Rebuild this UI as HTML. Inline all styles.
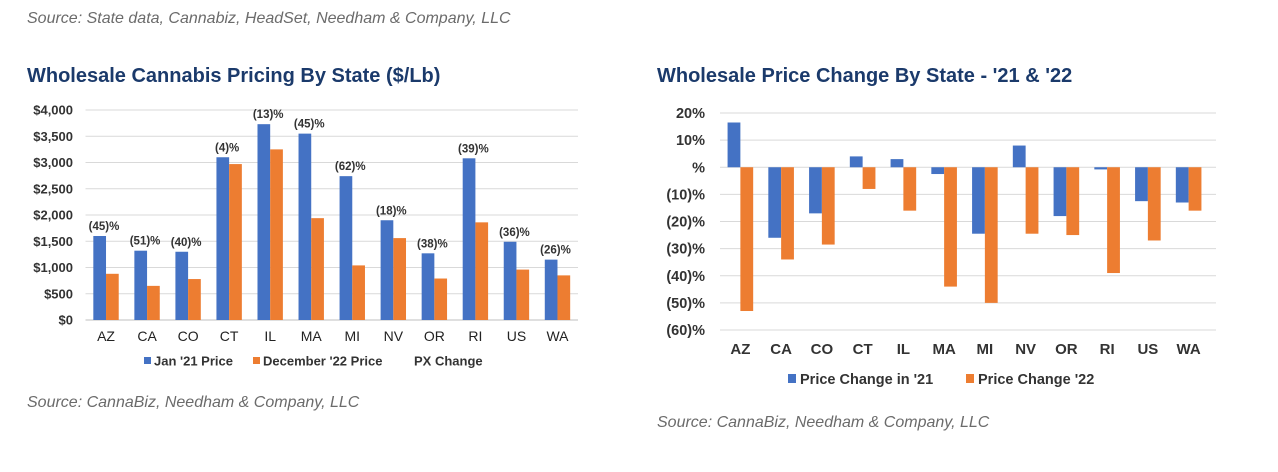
<!DOCTYPE html>
<html><head><meta charset="utf-8"><style>
body{margin:0;width:1278px;height:472px;background:#fff;overflow:hidden;font-family:"Liberation Sans",Arial,sans-serif}
.src{position:absolute;font-style:italic;color:#6b6b6b;font-size:16px}
.ttl{position:absolute;color:#1b3a6b;font-weight:bold;font-size:20px}
svg{position:absolute;left:0;top:0}
</style></head><body>
<div class="src" style="left:27px;top:10px">Source: State data, Cannabiz, HeadSet, Needham &amp; Company, LLC</div>
<div class="ttl" style="left:27px;top:65px">Wholesale Cannabis Pricing By State ($/Lb)</div>
<div class="ttl" style="left:657px;top:65px">Wholesale Price Change By State - '21 &amp; '22</div>
<div class="src" style="left:27px;top:394px">Source: CannaBiz, Needham &amp; Company, LLC</div>
<div class="src" style="left:657px;top:414px">Source: CannaBiz, Needham &amp; Company, LLC</div>
<svg id="chart" width="1278" height="472"></svg>
<script>
const categories=["AZ","CA","CO","CT","IL","MA","MI","NV","OR","RI","US","WA"];
const jan21=[1600,1320,1300,3100,3730,3550,2740,1900,1270,3080,1490,1150];
const dec22=[880,650,780,2970,3250,1940,1040,1560,790,1860,960,850];
const pxChange=["(45)%","(51)%","(40)%","(4)%","(13)%","(45)%","(62)%","(18)%","(38)%","(39)%","(36)%","(26)%"];
const leftTicks=[0,500,1000,1500,2000,2500,3000,3500,4000];
const leftTickLabels=["$0","$500","$1,000","$1,500","$2,000","$2,500","$3,000","$3,500","$4,000"];
const chg21=[16.5,-26,-17,4,3,-2.5,-24.5,8,-18,-0.8,-12.5,-13];
const chg22=[-53,-34,-28.5,-8,-16,-44,-50,-24.5,-25,-39,-27,-16];
const rightTicks=[20,10,0,-10,-20,-30,-40,-50,-60];
const rightTickLabels=["20%","10%","%","(10)%","(20)%","(30)%","(40)%","(50)%","(60)%"];

const svg=document.getElementById('chart');
const NS="http://www.w3.org/2000/svg";
function mk(tag,attrs,name,text){const e=document.createElementNS(NS,tag);for(const k in attrs)e.setAttribute(k,attrs[k]);


if(text!==undefined)e.textContent=text;svg.appendChild(e);return e;}
const BLUE="#4472c4",ORANGE="#ed7d31";

// Left chart
const L={x0:85.5,x1:578,y0:320,y1:110,max:4000};
const ly=v=>L.y0-(v/L.max)*(L.y0-L.y1);
const lbw=(L.x1-L.x0)/categories.length;
const lx=i=>L.x0+lbw*(i+0.5);
leftTicks.forEach((t,i)=>{
 mk('line',{x1:L.x0,x2:L.x1,y1:ly(t),y2:ly(t),stroke:t===0?'#bfbfbf':'#d9d9d9','stroke-width':1},'left-gridline');
 mk('text',{x:73,y:ly(t)+4.5,'text-anchor':'end','font-size':13,'font-weight':'bold',fill:'#333'},'left-y-tick-label',leftTickLabels[i]);
});
categories.forEach((c,i)=>{
 const cx=lx(i),w=12.7;
 mk('rect',{x:cx-w,y:ly(jan21[i]),width:w,height:ly(0)-ly(jan21[i]),fill:BLUE},'bar-jan21-'+c.toLowerCase());
 mk('rect',{x:cx,y:ly(dec22[i]),width:w,height:ly(0)-ly(dec22[i]),fill:ORANGE},'bar-dec22-'+c.toLowerCase());
 mk('text',{x:cx-2,y:ly(Math.max(jan21[i],dec22[i]))-6,'text-anchor':'middle','font-size':11.5,'font-weight':'bold',fill:'#333'},'px-change-label',pxChange[i]);
 mk('text',{x:cx,y:341,'text-anchor':'middle','font-size':14,fill:'#222'},'left-x-tick-label',c);
});
mk('rect',{x:144,y:357,width:7,height:7,fill:BLUE},'legend-jan21-swatch');
mk('text',{x:154,y:365.5,'font-size':13,'font-weight':'bold',fill:'#333'},'legend-jan21-label',"Jan '21 Price");
mk('rect',{x:253,y:357,width:7,height:7,fill:ORANGE},'legend-dec22-swatch');
mk('text',{x:263,y:365.5,'font-size':13,'font-weight':'bold',fill:'#333'},'legend-dec22-label',"December '22 Price");
mk('text',{x:414,y:365.5,'font-size':13,'font-weight':'bold',fill:'#333'},'legend-px-change-label',"PX Change");

// Right chart
const R={x0:720,x1:1216,y0:330,y1:113,min:-60,max:20};
const ry=v=>R.y1+(R.max-v)/(R.max-R.min)*(R.y0-R.y1);
const rbw=(1209-720)/categories.length;
const rx=i=>720+rbw*(i+0.5);
rightTicks.forEach((t,i)=>{
 mk('line',{x1:R.x0,x2:R.x1,y1:ry(t),y2:ry(t),stroke:'#d9d9d9','stroke-width':1},'right-gridline');
 mk('text',{x:705,y:ry(t)+5,'text-anchor':'end','font-size':14.5,'font-weight':'bold',fill:'#333'},'right-y-tick-label',rightTickLabels[i]);
});
categories.forEach((c,i)=>{
 const cx=rx(i),w=12.8;
 const a=chg21[i],b=chg22[i];
 mk('rect',{x:cx-w,y:Math.min(ry(a),ry(0)),width:w,height:Math.abs(ry(a)-ry(0)),fill:BLUE},'bar-chg21-'+c.toLowerCase());
 mk('rect',{x:cx,y:Math.min(ry(b),ry(0)),width:w,height:Math.abs(ry(b)-ry(0)),fill:ORANGE},'bar-chg22-'+c.toLowerCase());
 mk('text',{x:cx,y:354,'text-anchor':'middle','font-size':15,'font-weight':'bold',fill:'#333'},'right-x-tick-label',c);
});
mk('rect',{x:788,y:374,width:8,height:9,fill:BLUE},'legend-chg21-swatch');
mk('text',{x:800,y:384,'font-size':14.5,'font-weight':'bold',fill:'#333'},'legend-chg21-label',"Price Change in '21");
mk('rect',{x:966,y:374,width:8,height:9,fill:ORANGE},'legend-chg22-swatch');
mk('text',{x:978,y:384,'font-size':14.5,'font-weight':'bold',fill:'#333'},'legend-chg22-label',"Price Change '22");
</script>
</body></html>
